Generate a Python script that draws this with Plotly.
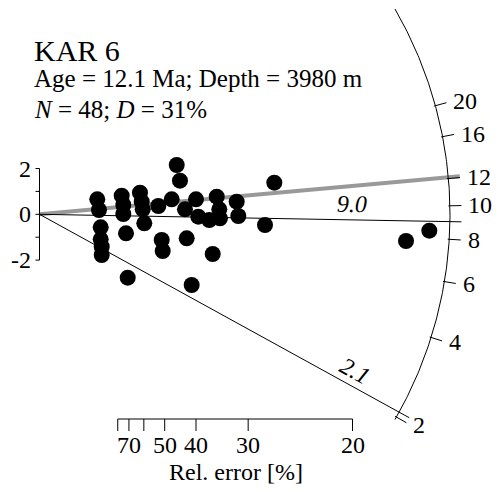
import numpy as np
import plotly.graph_objects as go

# ---- data (radial plot coordinates) ----
# precision = 1 / relative error ; std_est = standardised estimate
precision = [0.923, 0.950, 0.978, 0.978, 0.994, 0.994, 1.313, 1.339, 1.339, 1.382,
             1.409, 1.605, 1.633, 1.649, 1.674, 1.898, 1.952, 1.968, 2.112, 2.192,
             2.244, 2.324, 2.351, 2.431, 2.500, 2.537, 2.712, 2.767, 2.831, 2.872,
             2.883, 3.150, 3.176, 3.602, 3.751, 5.855, 6.227]
std_est = [0.655, 0.188, -0.568, -1.092, -1.415, -1.777, 0.812, 0.406, 0.013, -0.830,
           -2.769, 0.943, 0.550, 0.218, -0.393, 0.362, -1.122, -1.603, 0.655, 2.153,
           1.467, 0.218, -1.048, -3.087, 0.655, -0.105, -0.249, -1.734, 0.769, 0.218,
           -0.175, 0.550, -0.074, -0.467, 1.380, -1.166, -0.716]

central_age = 9.45          # reference age of the radial scale (Ma)
component_ages = [9.0, 2.1]  # fitted peak ages
strat_age = 12.1             # stratigraphic age (grey line)
arc_ticks = [2, 4, 6, 8, 10, 12, 16, 20]
relerr_ticks = [80, 70, 60, 50, 40, 30, 20]
relerr_labels = ["", "70", "", "50", "40", "30", "20"]
y_ticks = [-2, -1, 0, 1, 2]
y_labels = ["-2", "", "0", "", "2"]

title = "KAR 6"
line1 = "Age = 12.1 Ma; Depth = 3980 m"
line2 = "<i>N</i> = 48; <i>D</i> = 31%"

# ---- geometry ----
W, H = 499, 492
OX, OY = 39.5, 214.3      # origin in pixels
KX, KY = 62.6, 22.9       # pixels per unit
R_ARC, R_LINE = 410.5, 422.0
z0 = np.log(central_age)
FONT = "Liberation Serif"


def px(x):
    return (x - OX) / KX


def py(y):
    return (OY - y) / KY


def theta(t):
    return np.arctan(KY / KX * (np.log(t) - z0))


def polar(r, th):
    return r * np.cos(th) / KX, r * np.sin(th) / KY


fig = go.Figure()
black = dict(color="black", width=1)

# radial lines
gx, gy = polar(R_LINE, theta(strat_age))
fig.add_trace(go.Scatter(x=[0, gx], y=[0, gy], mode="lines",
                         line=dict(color="#999999", width=4), hoverinfo="skip"))
for a in component_ages:
    lx, ly = polar(R_LINE, theta(a))
    fig.add_trace(go.Scatter(x=[0, lx], y=[0, ly], mode="lines", line=black,
                             hoverinfo="skip"))

# arc
ths = np.linspace(np.radians(-30), np.radians(30), 200)
ax_, ay_ = polar(R_ARC, ths)
fig.add_trace(go.Scatter(x=ax_, y=ay_, mode="lines", line=black, hoverinfo="skip"))

# arc ticks
tx, ty = [], []
for t in arc_ticks:
    th = theta(t)
    x1, y1 = polar(R_ARC - 1.5, th)
    x2, y2 = polar(R_LINE, th)
    tx += [x1, x2, None]
    ty += [y1, y2, None]
fig.add_trace(go.Scatter(x=tx, y=ty, mode="lines", line=black, hoverinfo="skip"))

# y bracket
fig.add_trace(go.Scatter(x=[0, 0], y=[min(y_ticks), max(y_ticks)], mode="lines",
                         line=black, hoverinfo="skip"))
yx, yy = [], []
for v in y_ticks:
    yx += [0, -4 / KX, None]
    yy += [v, v, None]
fig.add_trace(go.Scatter(x=yx, y=yy, mode="lines", line=black, hoverinfo="skip"))

# bottom rel. error axis
prec_ticks = [100.0 / r for r in relerr_ticks]
y_axis_b = py(419)
fig.add_trace(go.Scatter(x=[min(prec_ticks), max(prec_ticks)], y=[y_axis_b, y_axis_b],
                         mode="lines", line=black, hoverinfo="skip"))
bxs, bys = [], []
for p in prec_ticks:
    bxs += [p, p, None]
    bys += [y_axis_b, y_axis_b - 12 / KY, None]
fig.add_trace(go.Scatter(x=bxs, y=bys, mode="lines", line=black, hoverinfo="skip"))

# data points
fig.add_trace(go.Scatter(x=precision, y=std_est, mode="markers",
                         marker=dict(size=16, color="black", line=dict(width=0)),
                         hoverinfo="skip"))

ann = []
# arc tick labels
for t in arc_ticks:
    lx, ly = polar(R_LINE + 5, theta(t))
    ann.append(dict(x=lx, y=ly, text=str(t), xanchor="left", yanchor="middle",
                    showarrow=False, font=dict(size=24)))
# y labels
for v, s in zip(y_ticks, y_labels):
    if s:
        ann.append(dict(x=-7 / KX, y=v, text=s, xanchor="right", yanchor="middle",
                        showarrow=False, font=dict(size=24)))
# bottom labels
for p, s in zip(prec_ticks, relerr_labels):
    if s:
        ann.append(dict(x=p, y=py(445), text=s, xanchor="center", yanchor="middle",
                        showarrow=False, font=dict(size=24), borderpad=0))
ann.append(dict(x=px(236), y=py(472), text="Rel. error [%]", xanchor="center",
                yanchor="middle", showarrow=False, font=dict(size=24), borderpad=0))

# component labels
for a, r, off in [(9.0, 312, 16), (2.1, 352, 15)]:
    th = theta(a)
    cx = OX + r * np.cos(th) - off * np.sin(th)
    cy = OY - r * np.sin(th) - off * np.cos(th)
    ann.append(dict(x=px(cx), y=py(cy), text="<i>%.1f</i>" % a, xanchor="center",
                    yanchor="middle", showarrow=False, font=dict(size=24),
                    textangle=-np.degrees(th)))

# title block
ann.append(dict(x=px(32), y=py(50), text=title, xanchor="left", yanchor="middle",
                showarrow=False, font=dict(size=30)))
ann.append(dict(x=px(32), y=py(78), text=line1, xanchor="left", yanchor="middle",
                showarrow=False, font=dict(size=25)))
ann.append(dict(x=px(32), y=py(109), text=line2, xanchor="left", yanchor="middle",
                showarrow=False, font=dict(size=25)))

fig.update_layout(
    width=W, height=H, autosize=False,
    margin=dict(l=0, r=0, t=0, b=0),
    paper_bgcolor="white", plot_bgcolor="white",
    showlegend=False,
    font=dict(family=FONT, color="black"),
    xaxis=dict(range=[px(0), px(W)], visible=False, fixedrange=True),
    yaxis=dict(range=[py(H), py(0)], visible=False, fixedrange=True),
    annotations=ann,
)
fig.write_html("out.html", config={"displayModeBar": False},
               post_script="document.body.style.margin='0px';")
